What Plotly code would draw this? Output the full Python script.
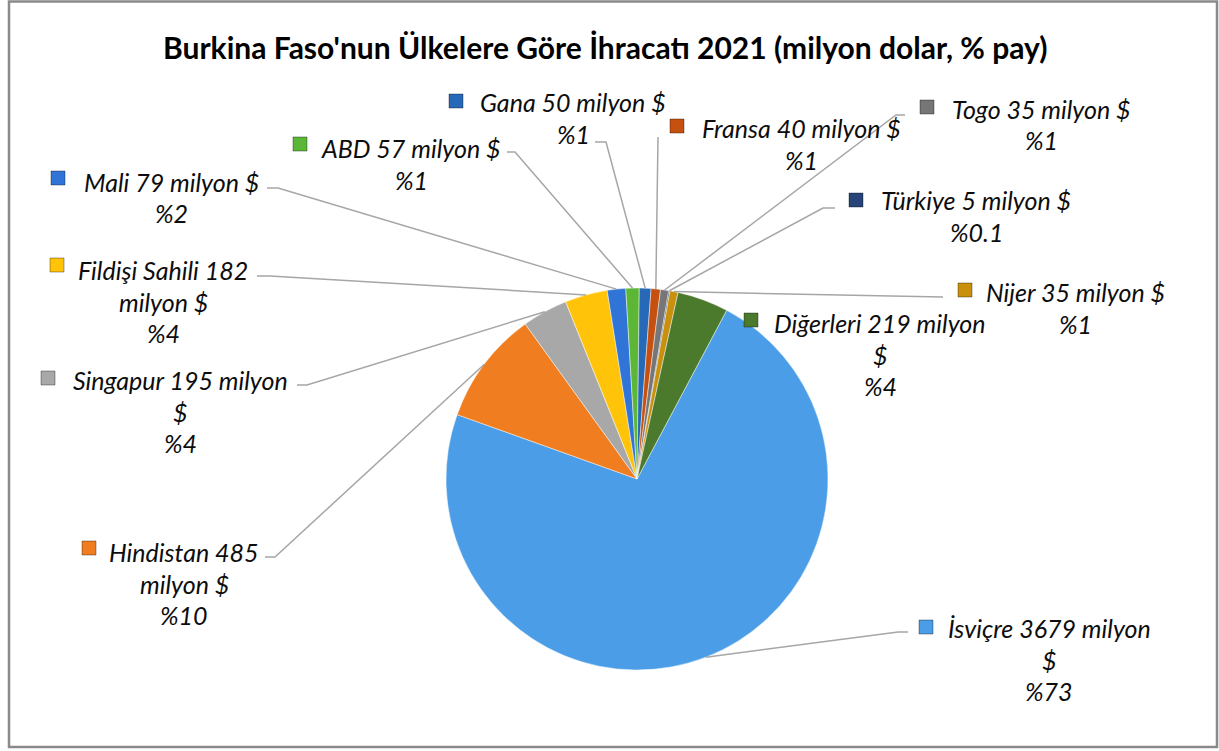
import math
import plotly.graph_objects as go

W, H = 1219, 751

# ---- data ----
countries = ["İsviçre", "Hindistan", "Singapur", "Fildişi Sahili", "Mali", "ABD",
             "Gana", "Fransa", "Togo", "Türkiye", "Nijer", "Diğerleri"]
values = [3679, 485, 195, 182, 79, 57, 50, 40, 35, 5, 35, 219]
shares = ["%73", "%10", "%4", "%4", "%2", "%1", "%1", "%1", "%1", "%0.1", "%1", "%4"]
colors = ["#4a9de6", "#f07d1f", "#a8a8a8", "#ffc40a", "#2f74d6", "#5cb737",
          "#2569b8", "#c6500f", "#767676", "#264478", "#c8900c", "#4b7a2c"]

title = "Burkina Faso'nun Ülkelere Göre İhracatı 2021 (milyon dolar, % pay)"

# label text lines (Excel-like wrapping)
label_lines = [
    ["İsviçre 3679 milyon", "$", "%73"],
    ["Hindistan 485", "milyon $", "%10"],
    ["Singapur 195 milyon", "$", "%4"],
    ["Fildişi Sahili 182", "milyon $", "%4"],
    ["Mali 79 milyon $", "%2"],
    ["ABD 57 milyon $", "%1"],
    ["Gana 50 milyon $", "%1"],
    ["Fransa 40 milyon $", "%1"],
    ["Togo 35 milyon $", "%1"],
    ["Türkiye 5 milyon $", "%0.1"],
    ["Nijer 35 milyon $", "%1"],
    ["Diğerleri 219 milyon", "$", "%4"],
]

# ---- layout positions (pixels) ----
CX, CY, R = 637, 479, 191
ROTATION = 28
# label text centre x, first-line y
label_pos = [(1049, 628), (184, 552), (180, 380), (163, 270), (171, 182), (411, 148),
             (573, 102), (801, 128), (1041, 109), (976, 200), (1075, 292), (880, 323)]
line_gap = 31.5
# legend key centres
key_pos = [(926, 627), (89, 548), (48, 378), (57, 265), (58, 178), (300, 144),
           (456, 101), (677, 126), (927, 107), (856, 200), (965, 290), (751, 320)]
# leader line label-side points (None = no leader)
leader_start = [
    [(908, 632), (898, 632)],
    [(265, 557), (275, 557)],
    [(297, 385), (307, 385)],
    [(257, 276), (270, 276)],
    [(267, 188), (278, 188)],
    [(507, 152), (515, 152)],
    [(595, 142), (606, 142)],
    [(658, 137)],
    [(905, 115), (896, 115)],
    [(835, 208), (823, 208)],
    [(943, 297)],
    None,
]


def px(x):
    return x / W


def py(y):
    return 1 - y / H


fig = go.Figure()
fig.add_trace(go.Pie(
    labels=countries, values=values, sort=False, direction="clockwise",
    rotation=ROTATION, textinfo="none", hoverinfo="label+value+percent",
    marker=dict(colors=colors, line=dict(color="rgba(255,255,255,0.45)", width=1)),
    domain=dict(x=[px(CX - R), px(CX + R)], y=[py(CY + R), py(CY - R)]),
    showlegend=False,
))

total = sum(values)
shapes = []
annotations = []

# border
shapes.append(dict(type="rect", xref="paper", yref="paper",
                   x0=px(9), x1=px(1217), y0=py(747), y1=py(1.5),
                   line=dict(color="#8a8a8a", width=2.5), fillcolor="rgba(0,0,0,0)"))

cum = 0
for i, v in enumerate(values):
    mid = ROTATION + (cum + v / 2) / total * 360
    cum += v
    a = math.radians(mid)
    ex, ey = CX + R * math.sin(a), CY - R * math.cos(a)
    pts = leader_start[i]
    if pts is not None:
        allp = pts + [(ex, ey)]
        path = "M " + " L ".join(f"{px(x):.5f},{py(y):.5f}" for x, y in allp)
        shapes.append(dict(type="path", xref="paper", yref="paper", path=path,
                           line=dict(color="#a6a6a6", width=1.5)))
    # legend key
    kx, ky = key_pos[i]
    s = 7
    shapes.append(dict(type="rect", xref="paper", yref="paper",
                       x0=px(kx - s), x1=px(kx + s), y0=py(ky + s), y1=py(ky - s),
                       fillcolor=colors[i], line=dict(color="rgba(0,0,0,0.35)", width=1)))
    lx, ly = label_pos[i]
    for j, t in enumerate(label_lines[i]):
        annotations.append(dict(
            xref="paper", yref="paper", x=px(lx), y=py(ly + j * line_gap),
            xanchor="center", yanchor="middle", showarrow=False, text=t,
            font=dict(family="Lato", size=25, color="#0d0d0d", style="italic")))

annotations.append(dict(
    xref="paper", yref="paper", x=px(605), y=py(47), xanchor="center", yanchor="middle",
    showarrow=False, text="<b>" + title + "</b>",
    font=dict(family="Lato", size=30, color="#000000")))

fig.update_layout(
    width=W, height=H, autosize=False,
    margin=dict(l=0, r=0, t=0, b=0),
    paper_bgcolor="white", plot_bgcolor="white",
    shapes=shapes, annotations=annotations,
)

fig.write_html("out.html", config={"displayModeBar": False},
               post_script="document.body.style.margin='0';")
